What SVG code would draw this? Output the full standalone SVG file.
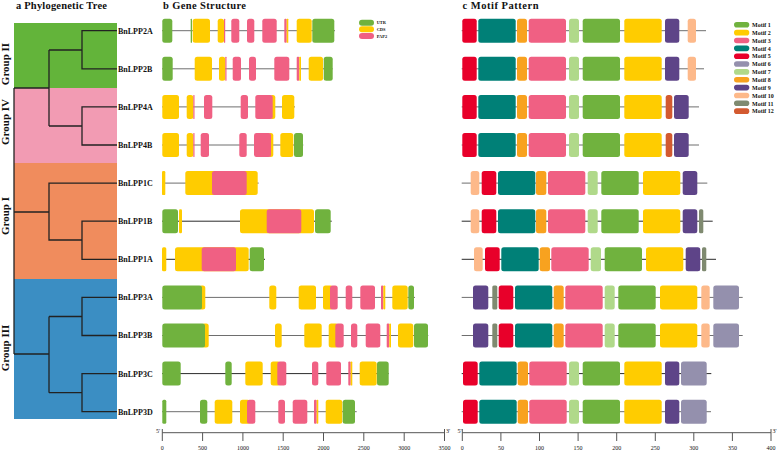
<svg xmlns="http://www.w3.org/2000/svg" width="778" height="452" viewBox="0 0 778 452">
<style>
text{font-family:"Liberation Serif","Times New Roman",serif;font-weight:bold;fill:#111}
.ttl{font-size:10.5px}
.gl{font-size:8px}
.grp{font-size:11px}
.lg{font-size:4.4px}
.ml{font-size:6px}
.ax{font-size:6px;font-weight:normal;text-anchor:middle}
.pr{font-size:6px;font-weight:normal}
rect.b{height:24px;rx:2.5px}
.u{fill:#70b23e}.c{fill:#ffcc00}.p{fill:#f06083}
.m1{fill:#70b23e}.m2{fill:#ffcc00}.m3{fill:#f06083}.m4{fill:#008077}.m5{fill:#e8002a}.m6{fill:#9490ad}
.m7{fill:#b0d98a}.m8{fill:#f8a21f}.m9{fill:#5e4488}.m10{fill:#fdb98a}.m11{fill:#7f8a70}.m12{fill:#d35a30}
.ln{stroke:#6e6e6e;stroke-width:1}
.dk{stroke:#2a2a2a}
.tr{stroke:#222;stroke-width:1.3;fill:none}
.axl{stroke:#555;stroke-width:1;fill:none}
</style>
<rect width="778" height="452" fill="#fff"/>
<text class="ttl" x="16" y="8.5" textLength="91">a Phylogenetic Tree</text>
<text class="ttl" x="163" y="8.5" textLength="83">b Gene Structure</text>
<text class="ttl" x="462.5" y="8.5" textLength="76">c Motif  Pattern</text>

<g id="tree-bg">
<rect x="14" y="23" width="103" height="65" fill="#63b43a"/>
<rect x="14" y="88" width="103" height="75" fill="#f29bb3"/>
<rect x="14" y="163" width="103" height="116" fill="#f08c5d"/>
<rect x="14" y="279" width="103" height="140" fill="#3b8ec3"/>
</g>
<g id="group-labels">
<text class="grp" transform="translate(9,64) rotate(-90)" text-anchor="middle">Group II</text>
<text class="grp" transform="translate(9,122) rotate(-90)" text-anchor="middle">Group IV</text>
<text class="grp" transform="translate(9,216) rotate(-90)" text-anchor="middle">Group I</text>
<text class="grp" transform="translate(9,348) rotate(-90)" text-anchor="middle">Group III</text>
</g>
<g id="connectors">
<path class="tr" d="M117,30.7H82V68.8H117M82,50H49M117,106.9H82V145H117M82,126H49M49,50V126M49,88H14"/>
<path class="tr" d="M117,183.1H49V240H82M117,221.2H82V259.3H117M49,212H14"/>
<path class="tr" d="M117,297.4H82V335.5H117M82,316.5H49M117,373.6H82V411.7H117M82,392.7H49M49,316.5V392.7M49,354H14"/>
<path class="tr" d="M14,88V354"/>
</g>

<g id="gene-labels">
<text class="gl" x="118" y="33.6">BnLPP2A</text>
<text class="gl" x="118" y="71.7">BnLPP2B</text>
<text class="gl" x="118" y="109.8">BnLPP4A</text>
<text class="gl" x="118" y="147.9">BnLPP4B</text>
<text class="gl" x="118" y="186">BnLPP1C</text>
<text class="gl" x="118" y="224.1">BnLPP1B</text>
<text class="gl" x="118" y="262.2">BnLPP1A</text>
<text class="gl" x="118" y="300.3">BnLPP3A</text>
<text class="gl" x="118" y="338.4">BnLPP3B</text>
<text class="gl" x="118" y="376.5">BnLPP3C</text>
<text class="gl" x="118" y="414.6">BnLPP3D</text>
</g>

<g id="gene-legend">
<rect x="359" y="19.7" width="15" height="6" rx="3" class="u"/>
<rect x="359" y="26.3" width="15" height="6" rx="3" class="c"/>
<rect x="359" y="33" width="15" height="6" rx="3" class="p"/>
<text class="lg" x="376.7" y="24.3">UTR</text>
<text class="lg" x="376.7" y="30.9">CDS</text>
<text class="lg" x="376.7" y="37.6">PAP2</text>
</g>

<g id="gs-BnLPP2A" transform="translate(0,18.7)">
<line class="ln" x1="162" y1="12" x2="335" y2="12"/>
<rect class="b u" x="162.3" width="10"/><rect class="b u" x="190.7" width="1.3" style="rx:0.5px"/>
<rect class="b c" x="192.7" width="17.3"/><rect class="b c" x="217.7" width="6.3"/><rect class="b p" x="224" width="1.2" style="rx:0.5px"/>
<rect class="b p" x="231.3" width="8"/><rect class="b p" x="247" width="7.3"/><rect class="b p" x="262.3" width="14.4"/>
<rect class="b p" x="284.3" width="2.4" style="rx:1px"/><rect class="b c" x="286.7" width="1.6" style="rx:0.5px"/>
<rect class="b c" x="296.7" width="15"/><rect class="b u" x="312.3" width="22"/>
</g>
<g id="gs-BnLPP2B" transform="translate(0,56.8)">
<line class="ln" x1="162" y1="12" x2="332.7" y2="12"/>
<rect class="b u" x="162.3" width="10.4"/>
<rect class="b c" x="194.7" width="17.3"/><rect class="b c" x="219" width="6.3"/><rect class="b p" x="225.3" width="1.2" style="rx:0.5px"/>
<rect class="b p" x="232.7" width="8.3"/><rect class="b p" x="249" width="7"/><rect class="b p" x="274.3" width="15"/>
<rect class="b p" x="296.7" width="2.6" style="rx:1px"/><rect class="b c" x="299.3" width="1.7" style="rx:0.5px"/>
<rect class="b c" x="308.7" width="14.3"/><rect class="b u" x="323.7" width="9"/>
</g>
<g id="gs-BnLPP4A" transform="translate(0,94.9)">
<line class="ln" x1="162" y1="12" x2="295" y2="12"/>
<rect class="b c" x="162.3" width="16.7"/><rect class="b c" x="186.7" width="6.6"/><rect class="b p" x="193.3" width="1.2" style="rx:0.5px"/>
<rect class="b p" x="204" width="8.3"/><rect class="b p" x="240.7" width="7.3"/>
<rect class="b c" x="270" width="5.3"/><rect class="b p" x="255.3" width="17.4"/>
<rect class="b c" x="282" width="12.3"/>
</g>
<g id="gs-BnLPP4B" transform="translate(0,133)">
<line class="ln" x1="162" y1="12" x2="303.3" y2="12"/>
<rect class="b c" x="162.3" width="16.7"/><rect class="b c" x="186.7" width="6.6"/><rect class="b p" x="193.3" width="1.2" style="rx:0.5px"/>
<rect class="b p" x="200.7" width="8.3"/><rect class="b p" x="239.3" width="7.4"/>
<rect class="b c" x="268" width="5.3"/><rect class="b p" x="254" width="17"/>
<rect class="b c" x="280.3" width="13"/><rect class="b u" x="294" width="9"/>
</g>
<g id="gs-BnLPP1C" transform="translate(0,171.1)">
<line class="ln" x1="162" y1="12" x2="258.7" y2="12"/>
<rect class="b c" x="162" width="3.3" style="rx:1.2px"/>
<rect class="b c" x="185.3" width="72.4"/><rect class="b p" x="212" width="34.7"/>
</g>
<g id="gs-BnLPP1B" transform="translate(0,209.2)">
<line class="ln dk" x1="162" y1="12" x2="331.7" y2="12"/>
<rect class="b u" x="162.3" width="15.7"/><rect class="b c" x="179" width="3" style="rx:1.2px"/>
<rect class="b c" x="240" width="74"/><rect class="b p" x="266.7" width="34.6"/>
<rect class="b u" x="315" width="15.7"/>
</g>
<g id="gs-BnLPP1A" transform="translate(0,247.3)">
<line class="ln dk" x1="162" y1="12" x2="265" y2="12"/>
<rect class="b c" x="162" width="4.3" style="rx:1.5px"/>
<rect class="b c" x="175" width="73.7"/><rect class="b p" x="201.7" width="34.3"/>
<rect class="b u" x="249.7" width="14.3"/>
</g>
<g id="gs-BnLPP3A" transform="translate(0,285.4)">
<line class="ln" x1="162" y1="12" x2="415" y2="12"/>
<rect class="b c" x="199" width="6.3"/><rect class="b u" x="162.3" width="39.7"/>
<rect class="b c" x="269.3" width="7"/><rect class="b c" x="298.7" width="17.3"/>
<rect class="b c" x="323" width="10"/><rect class="b p" x="330" width="7.7"/>
<rect class="b p" x="345.7" width="6.6"/><rect class="b p" x="360.3" width="14.7"/>
<rect class="b p" x="381" width="2.3" style="rx:1px"/><rect class="b c" x="383.3" width="2" style="rx:0.8px"/>
<rect class="b c" x="392.3" width="15.4"/><rect class="b u" x="408.3" width="5.7"/>
</g>
<g id="gs-BnLPP3B" transform="translate(0,323.5)">
<line class="ln" x1="162" y1="12" x2="428.3" y2="12"/>
<rect class="b c" x="202" width="6.7"/><rect class="b u" x="162.3" width="42.7"/>
<rect class="b c" x="275" width="6.7"/><rect class="b c" x="304.3" width="17.4"/>
<rect class="b c" x="328.7" width="9.6"/><rect class="b p" x="335.3" width="8.4"/>
<rect class="b p" x="351" width="6.3"/><rect class="b p" x="365.7" width="14.6"/>
<rect class="b p" x="386.7" width="2.6" style="rx:1px"/><rect class="b c" x="389.3" width="1.7" style="rx:0.7px"/>
<rect class="b c" x="398" width="15.3"/><rect class="b u" x="414" width="14"/>
</g>
<g id="gs-BnLPP3C" transform="translate(0,361.6)">
<line class="ln dk" x1="162" y1="12" x2="388.7" y2="12"/>
<rect class="b u" x="162.3" width="18.4"/><rect class="b u" x="225.3" width="6.4"/>
<rect class="b c" x="245.3" width="17.4"/>
<rect class="b c" x="270.7" width="9.6"/><rect class="b p" x="277.3" width="9"/>
<rect class="b p" x="312" width="6.3"/><rect class="b p" x="326.3" width="14.7"/>
<rect class="b p" x="348.3" width="2.4" style="rx:1px"/><rect class="b c" x="350.7" width="1.6" style="rx:0.7px"/>
<rect class="b c" x="359.7" width="17"/><rect class="b u" x="377" width="11.7"/>
</g>
<g id="gs-BnLPP3D" transform="translate(0,399.7)">
<line class="ln" x1="162" y1="12" x2="356.7" y2="12"/>
<rect class="b u" x="162.3" width="4" style="rx:1.5px"/><rect class="b u" x="200" width="7.3"/>
<rect class="b c" x="214.7" width="17.6"/>
<rect class="b c" x="240" width="10"/><rect class="b p" x="247" width="8.3"/>
<rect class="b p" x="278.3" width="6.7"/><rect class="b p" x="292.7" width="14.6"/>
<rect class="b p" x="314" width="2.7" style="rx:1px"/><rect class="b c" x="316.7" width="1.6" style="rx:0.7px"/>
<rect class="b c" x="325.7" width="16.6"/><rect class="b u" x="342.7" width="12.3"/>
</g>

<g id="gene-axis">
<path class="axl" d="M162.3,432.7H444.5M162.3,429V441M202.6,432.7V441M242.9,432.7V441M283.2,432.7V441M323.5,432.7V441M363.8,432.7V441M404.2,432.7V441M444.5,429V441"/>
<text class="pr" x="156" y="433">5'</text>
<text class="pr" x="446" y="433">3'</text>
<text class="ax" x="162.3" y="450">0</text>
<text class="ax" x="202.6" y="450">500</text>
<text class="ax" x="242.9" y="450">1000</text>
<text class="ax" x="283.2" y="450">1500</text>
<text class="ax" x="323.5" y="450">2000</text>
<text class="ax" x="363.8" y="450">2500</text>
<text class="ax" x="404.2" y="450">3000</text>
<text class="ax" x="444.5" y="450">3500</text>
</g>

<g id="motif-legend">
<rect x="734" y="22" width="15.3" height="5.6" rx="2.8" class="m1"/>
<rect x="734" y="29.85" width="15.3" height="5.6" rx="2.8" class="m2"/>
<rect x="734" y="37.7" width="15.3" height="5.6" rx="2.8" class="m3"/>
<rect x="734" y="45.55" width="15.3" height="5.6" rx="2.8" class="m4"/>
<rect x="734" y="53.4" width="15.3" height="5.6" rx="2.8" class="m5"/>
<rect x="734" y="61.25" width="15.3" height="5.6" rx="2.8" class="m6"/>
<rect x="734" y="69.1" width="15.3" height="5.6" rx="2.8" class="m7"/>
<rect x="734" y="76.95" width="15.3" height="5.6" rx="2.8" class="m8"/>
<rect x="734" y="84.8" width="15.3" height="5.6" rx="2.8" class="m9"/>
<rect x="734" y="92.65" width="15.3" height="5.6" rx="2.8" class="m10"/>
<rect x="734" y="100.5" width="15.3" height="5.6" rx="2.8" class="m11"/>
<rect x="734" y="108.35" width="15.3" height="5.6" rx="2.8" class="m12"/>
<text class="ml" x="752" y="27">Motif 1</text>
<text class="ml" x="752" y="34.85">Motif 2</text>
<text class="ml" x="752" y="42.7">Motif 3</text>
<text class="ml" x="752" y="50.55">Motif 4</text>
<text class="ml" x="752" y="58.4">Motif 5</text>
<text class="ml" x="752" y="66.25">Motif 6</text>
<text class="ml" x="752" y="74.1">Motif 7</text>
<text class="ml" x="752" y="81.95">Motif 8</text>
<text class="ml" x="752" y="89.8">Motif 9</text>
<text class="ml" x="752" y="97.65">Motif 10</text>
<text class="ml" x="752" y="105.5">Motif 11</text>
<text class="ml" x="752" y="113.35">Motif 12</text>
</g>

<defs>
<g id="mA">
<rect class="b m5" x="462.3" width="14.4"/><rect class="b m4" x="478.3" width="37.4"/><rect class="b m8" x="517" width="10"/>
<rect class="b m3" x="528.7" width="37.3"/><rect class="b m7" x="569" width="10"/><rect class="b m1" x="582.7" width="37.3"/>
<rect class="b m2" x="624.3" width="37.4"/>
</g>
<g id="mC">
<rect class="b m10" x="470.7" width="8.6"/><rect class="b m5" x="481.7" width="14.6"/><rect class="b m4" x="498" width="37.3"/>
<rect class="b m8" x="536" width="10.3"/><rect class="b m3" x="548" width="37.3"/><rect class="b m7" x="587.7" width="10"/>
<rect class="b m1" x="601.3" width="37.4"/><rect class="b m2" x="643" width="37.3"/><rect class="b m9" x="682.7" width="14.6"/>
</g>
<g id="mT">
<rect class="b m9" x="473" width="15.3"/><rect class="b m11" x="492.3" width="5" style="rx:1.5px"/><rect class="b m5" x="498.7" width="14.6"/>
<rect class="b m4" x="515" width="37.3"/><rect class="b m8" x="553.7" width="10"/><rect class="b m3" x="565.3" width="37.4"/>
<rect class="b m7" x="604.7" width="10"/><rect class="b m1" x="618.3" width="37.4"/><rect class="b m2" x="660" width="37.3"/>
<rect class="b m10" x="701.3" width="8.4"/><rect class="b m6" x="713.3" width="25.7"/>
</g>
<g id="mD">
<rect class="b m5" x="463" width="14.7"/><rect class="b m4" x="479.3" width="37.4"/><rect class="b m8" x="517.7" width="10.3"/>
<rect class="b m3" x="529.3" width="37.4"/><rect class="b m7" x="569" width="10"/><rect class="b m1" x="582.7" width="37.3"/>
<rect class="b m2" x="624.3" width="37.4"/><rect class="b m9" x="665" width="14.3"/><rect class="b m6" x="681" width="25.7"/>
</g>
</defs>

<g id="mp-BnLPP2A" transform="translate(0,18.7)">
<line class="ln" x1="461.7" y1="12" x2="706" y2="12"/>
<use href="#mA"/><rect class="b m9" x="665" width="14.3"/><rect class="b m10" x="687.7" width="8.3"/>
</g>
<g id="mp-BnLPP2B" transform="translate(0,56.8)">
<line class="ln" x1="461.7" y1="12" x2="704" y2="12"/>
<use href="#mA"/><rect class="b m9" x="665" width="14.3"/><rect class="b m10" x="687.7" width="8.3"/>
</g>
<g id="mp-BnLPP4A" transform="translate(0,94.9)">
<line class="ln" x1="461.7" y1="12" x2="699" y2="12"/>
<use href="#mA"/><rect class="b m12" x="665.7" width="6.6"/><rect class="b m9" x="674" width="14.7"/>
</g>
<g id="mp-BnLPP4B" transform="translate(0,133)">
<line class="ln" x1="461.7" y1="12" x2="699" y2="12"/>
<use href="#mA"/><rect class="b m12" x="665.7" width="6.6"/><rect class="b m9" x="674" width="14.7"/>
</g>
<g id="mp-BnLPP1C" transform="translate(0,171.1)">
<line class="ln" x1="461.7" y1="12" x2="707.3" y2="12"/>
<use href="#mC"/>
</g>
<g id="mp-BnLPP1B" transform="translate(0,209.2)">
<line class="ln dk" x1="461.7" y1="12" x2="712.7" y2="12"/>
<use href="#mC"/><rect class="b m11" x="699" width="4.3" style="rx:1.5px"/>
</g>
<g id="mp-BnLPP1A" transform="translate(0,247.3)">
<line class="ln dk" x1="461.7" y1="12" x2="716" y2="12"/>
<rect class="b m10" x="474" width="8.7"/><rect class="b m5" x="485" width="14.7"/><rect class="b m4" x="501.3" width="37.4"/>
<rect class="b m8" x="539.7" width="10.3"/><rect class="b m3" x="551.3" width="37.4"/><rect class="b m7" x="590.7" width="10.3"/>
<rect class="b m1" x="604.7" width="37.3"/><rect class="b m2" x="646" width="37.3"/><rect class="b m9" x="685.7" width="14.6"/>
<rect class="b m11" x="702" width="4.3" style="rx:1.5px"/>
</g>
<g id="mp-BnLPP3A" transform="translate(0,285.4)">
<line class="ln" x1="461.7" y1="12" x2="742.7" y2="12"/>
<use href="#mT"/>
</g>
<g id="mp-BnLPP3B" transform="translate(0,323.5)">
<line class="ln" x1="461.7" y1="12" x2="742.7" y2="12"/>
<use href="#mT"/>
</g>
<g id="mp-BnLPP3C" transform="translate(0,361.6)">
<line class="ln dk" x1="461.7" y1="12" x2="711.3" y2="12"/>
<use href="#mD"/>
</g>
<g id="mp-BnLPP3D" transform="translate(0,399.7)">
<line class="ln" x1="461.7" y1="12" x2="711" y2="12"/>
<use href="#mD"/>
</g>

<g id="motif-axis">
<path class="axl" d="M462.3,432.7H771M462.3,429V441M500.9,432.7V441M539.5,432.7V441M578.1,432.7V441M616.7,432.7V441M655.3,432.7V441M693.8,432.7V441M732.4,432.7V441M771,429V441"/>
<text class="pr" x="457.5" y="433">5'</text>
<text class="pr" x="772.5" y="433">3'</text>
<text class="ax" x="462.3" y="450">0</text>
<text class="ax" x="500.9" y="450">50</text>
<text class="ax" x="539.5" y="450">100</text>
<text class="ax" x="578.1" y="450">150</text>
<text class="ax" x="616.7" y="450">200</text>
<text class="ax" x="655.3" y="450">250</text>
<text class="ax" x="693.8" y="450">300</text>
<text class="ax" x="732.4" y="450">350</text>
<text class="ax" x="771" y="450">400</text>
</g>
</svg>
